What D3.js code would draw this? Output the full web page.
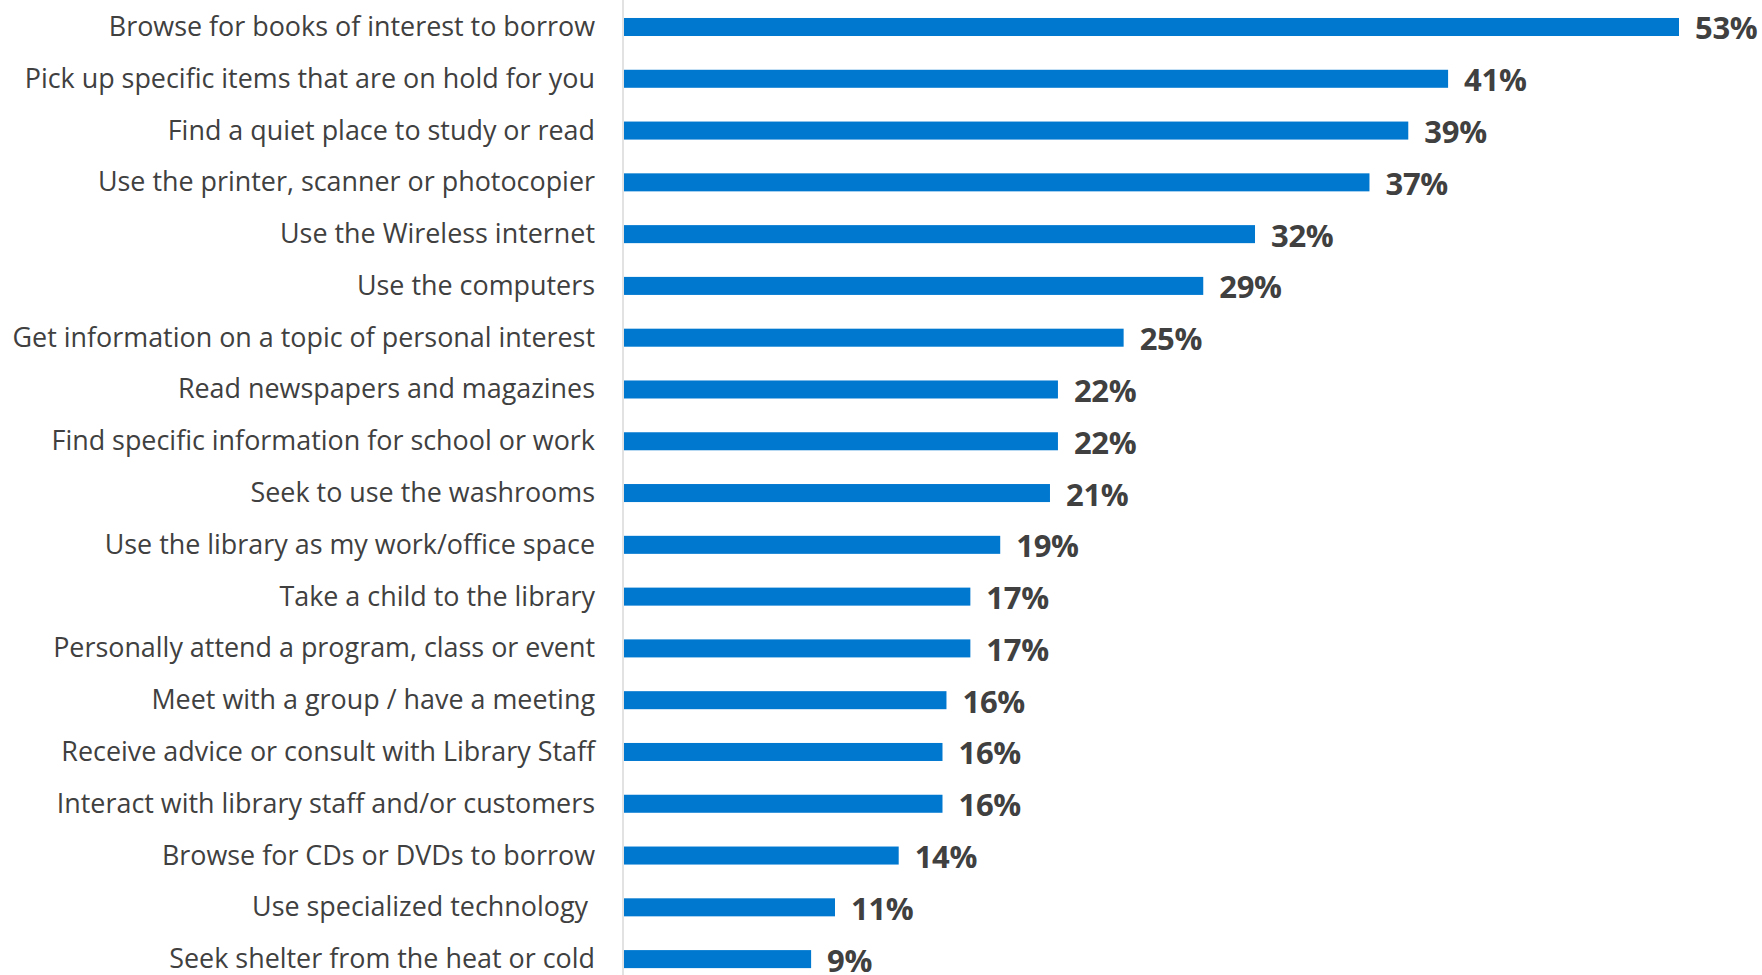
<!DOCTYPE html>
<html>
<head>
<meta charset="utf-8">
<script src="https://cdn.jsdelivr.net/npm/d3@7"></script>
<style>
  html, body { margin: 0; padding: 0; background: #ffffff; }
  svg { display: block; }
</style>
</head>
<body>
<svg id="chart" width="1762" height="975"></svg>
<script>
const categories = [
  "Browse for books of interest to borrow",
  "Pick up specific items that are on hold for you",
  "Find a quiet place to study or read",
  "Use the printer, scanner or photocopier",
  "Use the Wireless internet",
  "Use the computers",
  "Get information on a topic of personal interest",
  "Read newspapers and magazines",
  "Find specific information for school or work",
  "Seek to use the washrooms",
  "Use the library as my work/office space",
  "Take a child to the library",
  "Personally attend a program, class or event",
  "Meet with a group / have a meeting",
  "Receive advice or consult with Library Staff",
  "Interact with library staff and/or customers",
  "Browse for CDs or DVDs to borrow",
  "Use specialized technology ",
  "Seek shelter from the heat or cold"
];
const values = [53.0, 41.4, 39.4, 37.45, 31.7, 29.1, 25.1, 21.8, 21.8, 21.4, 18.9, 17.4, 17.4, 16.2, 16.0, 16.0, 13.8, 10.6, 9.4];

const data = categories.map((c, i) => ({ cat: c, val: values[i] }));

const svg = d3.select("#chart");
const x0 = 624;
const x = d3.scaleLinear().domain([0, 53]).range([x0, 1679]);
const y = d3.scaleBand()
  .domain(categories)
  .range([1.1, 985])
  .paddingInner(0.652)
  .paddingOuter(0.326);

// bars
svg.append("g").selectAll("rect")
  .data(data)
  .join("rect")
  .attr("x", x(0))
  .attr("y", d => y(d.cat))
  .attr("width", d => x(d.val) - x(0))
  .attr("height", y.bandwidth())
  .attr("fill", "#0078d0");

// axis line
svg.append("line")
  .attr("x1", x0 - 1).attr("x2", x0 - 1)
  .attr("y1", 0).attr("y2", 975)
  .attr("stroke", "#d9d9d9")
  .attr("stroke-width", 1.5);

// category labels
svg.append("g").selectAll("text")
  .data(data)
  .join("text")
  .attr("x", 595)
  .attr("y", d => y(d.cat) + y.bandwidth() / 2 + 9)
  .attr("text-anchor", "end")
  .style("white-space", "pre")
  .attr("font-family", "'Open Sans', sans-serif")
  .attr("font-size", 26.9)
  .attr("fill", "#404040")
  .text(d => d.cat);

// value labels
svg.append("g").selectAll("text")
  .data(data)
  .join("text")
  .attr("x", d => x(d.val) + 16)
  .attr("y", d => y(d.cat) + y.bandwidth() / 2 + 12.5)
  .attr("font-family", "'Open Sans', sans-serif")
  .attr("font-weight", "bold")
  .attr("font-size", 31)
  .attr("letter-spacing", -0.3)
  .attr("fill", "#404040")
  .text(d => Math.round(d.val) + "%");
</script>
</body>
</html>
